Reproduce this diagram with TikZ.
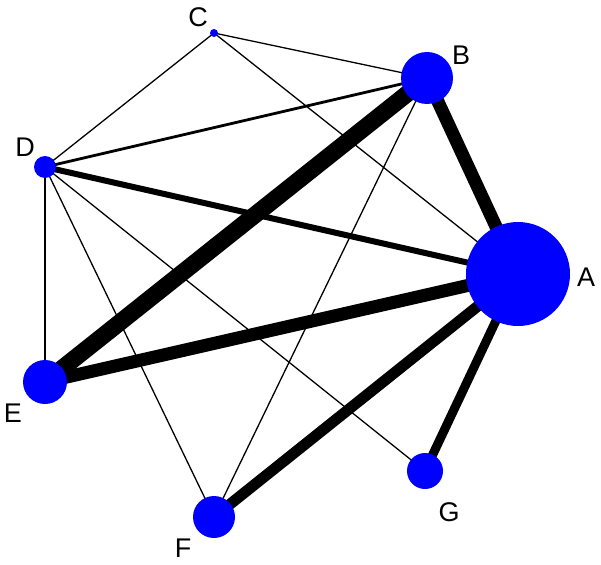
\documentclass[tikz,border=0pt]{standalone}
\usepackage{fontspec}
\setmainfont{Liberation Sans}
\usetikzlibrary{backgrounds}
\tikzset{
  vtx/.style={circle,fill=blue,draw=none,inner sep=0pt,minimum size=#1},
  lbl/.style={font=\fontsize{27}{27}\selectfont,text=black,inner sep=0pt},
  edge/.style={draw=black,line width=#1}
}
\begin{document}
\begin{tikzpicture}[x=1pt,y=-1pt]
\useasboundingbox (0,0) rectangle (601,564);
\node[vtx=104pt] (A) at (518,274) {};
\node[vtx=52pt]  (B) at (427,78) {};
\node[vtx=8pt]   (C) at (214,33) {};
\node[vtx=22pt]  (D) at (45,167) {};
\node[vtx=44pt]  (E) at (45,382) {};
\node[vtx=42pt]  (F) at (214,517) {};
\node[vtx=36pt]  (G) at (425,471) {};
\node[lbl] (lA) at (586,277) {A};
\node[lbl] (lB) at (461,55) {B};
\node[lbl] (lC) at (198,17) {C};
\node[lbl] (lD) at (25,147) {D};
\node[lbl] (lE) at (13,413) {E};
\node[lbl] (lF) at (183,548) {F};
\node[lbl] (lG) at (449,512) {G};
\begin{scope}[on background layer]
\draw[edge=1.3pt] (C.center) -- (B.center);
\draw[edge=1.3pt] (C.center) -- (D.center);
\draw[edge=1.3pt] (C.center) -- (A.center);
\draw[edge=1.3pt] (D.center) -- (E.center);
\draw[edge=1.3pt] (D.center) -- (F.center);
\draw[edge=1.3pt] (D.center) -- (G.center);
\draw[edge=1.3pt] (B.center) -- (F.center);
\draw[edge=2.8pt] (D.center) -- (B.center);
\draw[edge=6pt] (D.center) -- (A.center);
\draw[edge=17pt] (B.center) -- (E.center);
\draw[edge=13pt] (B.center) -- (A.center);
\draw[edge=13pt] (E.center) -- (A.center);
\draw[edge=11pt] (F.center) -- (A.center);
\draw[edge=9pt] (G.center) -- (A.center);
\end{scope}
\end{tikzpicture}
\end{document}
